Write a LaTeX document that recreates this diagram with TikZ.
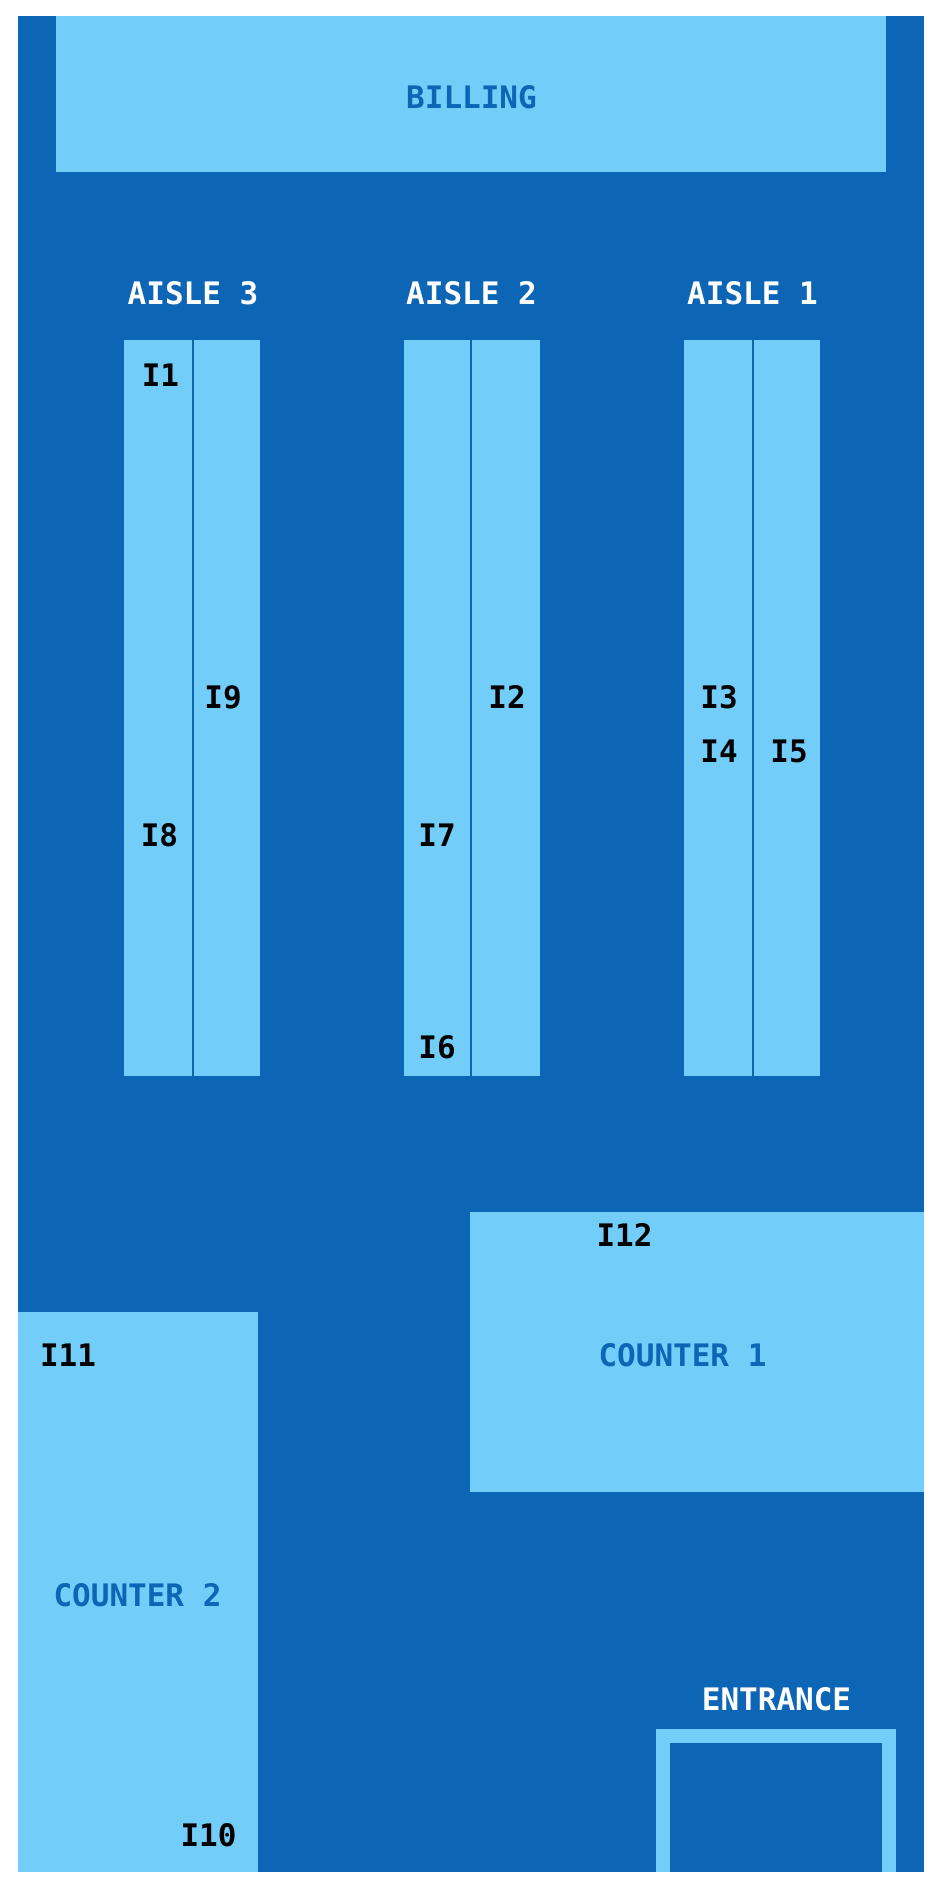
\documentclass[tikz,border=0pt]{standalone}
\usepackage{fontspec}
\setmainfont{DejaVu Sans Mono}
\definecolor{deep}{RGB}{13,101,181}
\definecolor{sky}{RGB}{114,205,248}
\tikzset{
  x=1pt,y=-1pt,
  lab/.style={anchor=base,inner sep=0pt,outer sep=0pt,font=\fontsize{31}{31}\selectfont\bfseries},
  itemlab/.style={lab,text=black},
  whitelab/.style={lab,text=white},
  bluelab/.style={lab,text=deep},
}
\begin{document}
\begin{tikzpicture}
\useasboundingbox (0,0) rectangle (942,1888);
\fill[white] (0,0) rectangle (942,1888);
\fill[deep] (18,16) rectangle (924,1872);
\fill[sky] (56,16) rectangle (886,172);
% aisles
\fill[sky] (124,340) rectangle (192,1076);
\fill[sky] (194,340) rectangle (260,1076);
\fill[sky] (404,340) rectangle (470,1076);
\fill[sky] (472,340) rectangle (540,1076);
\fill[sky] (684,340) rectangle (752,1076);
\fill[sky] (754,340) rectangle (820,1076);
% counters
\fill[sky] (470,1212) rectangle (924,1492);
\fill[sky] (18,1312) rectangle (258,1872);
% entrance
\fill[sky] (656,1729) rectangle (896,1872);
\fill[deep] (670,1743) rectangle (882,1872);
% texts
\node[bluelab] (billing) at (471.5,108) {BILLING};
\node[whitelab] (a3) at (193,304) {AISLE 3};
\node[whitelab] (a2) at (471.5,304) {AISLE 2};
\node[whitelab] (a1) at (752.5,304) {AISLE 1};
\node[itemlab] (i1) at (160.5,386) {I1};
\node[itemlab] (i9) at (223,708) {I9};
\node[itemlab] (i8) at (159.5,846) {I8};
\node[itemlab] (i2) at (507,708) {I2};
\node[itemlab] (i7) at (437,846) {I7};
\node[itemlab] (i6) at (437,1058) {I6};
\node[itemlab] (i3) at (719,708) {I3};
\node[itemlab] (i4) at (719,762) {I4};
\node[itemlab] (i5) at (789,762) {I5};
\node[itemlab] (i12) at (624.5,1246) {I12};
\node[itemlab] (i11) at (68,1366) {I11};
\node[itemlab] (i10) at (208.5,1846) {I10};
\node[bluelab] (c1) at (682.5,1366) {COUNTER 1};
\node[bluelab] (c2) at (137.5,1606) {COUNTER 2};
\node[whitelab] (ent) at (776.5,1710) {ENTRANCE};
\end{tikzpicture}
\end{document}
